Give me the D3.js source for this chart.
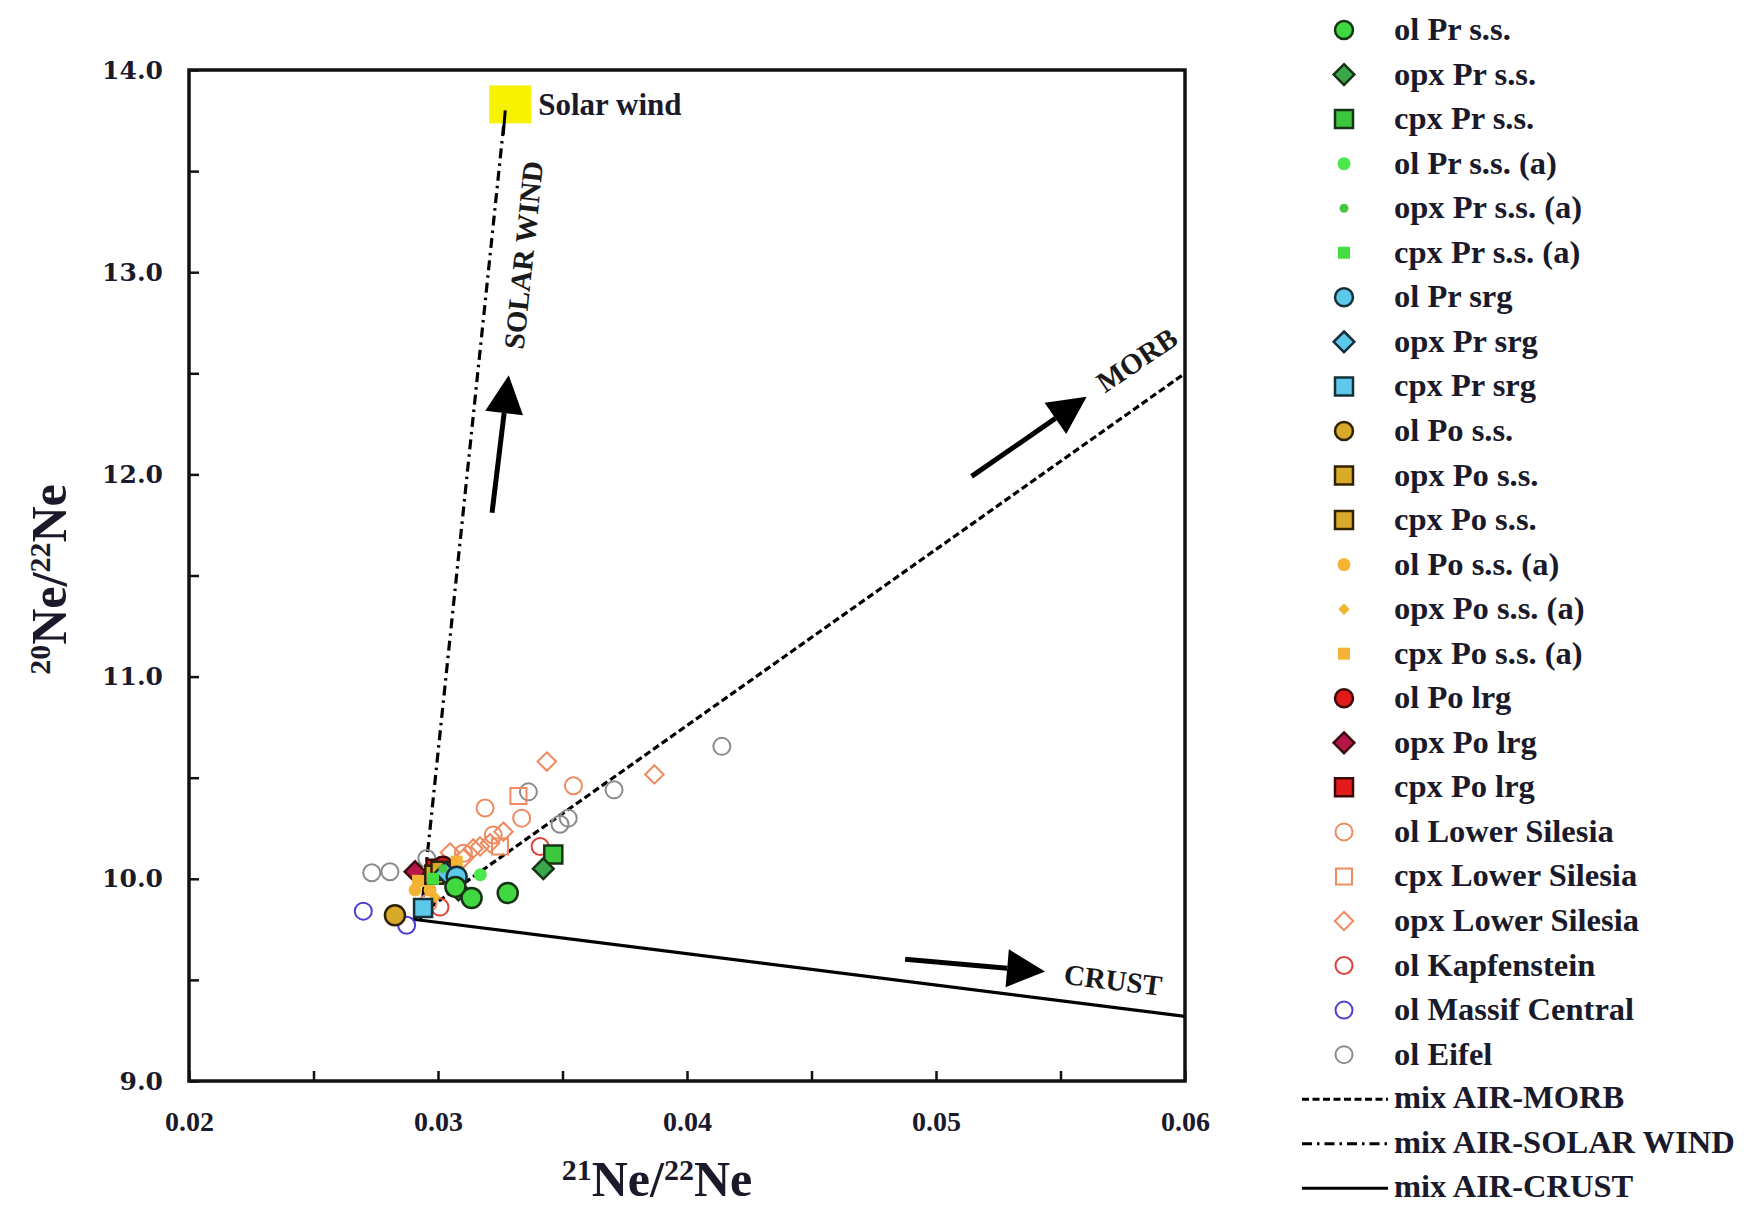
<!DOCTYPE html>
<html>
<head>
<meta charset="utf-8">
<title>Ne isotopes</title>
<script src="https://cdn.jsdelivr.net/npm/d3@7"></script>
<style>
  body { margin: 0; background: #fff; }
  text { font-family: "Liberation Serif", "Times New Roman", serif; }
</style>
</head>
<body>
<script>
// ---- data ----
var olPrSS      = [[0.0307, 9.96], [0.03135, 9.905], [0.0328, 9.93]];
var opxPrSS     = [[0.03082, 9.945], [0.03423, 10.05]];
var cpxPrSS     = [[0.03463, 10.12]];
var olPrSSa     = [[0.0317, 10.02]];
var opxPrSSa    = [[0.0302, 10.05]];
var cpxPrSSa    = [[0.0298, 10.0]];
var olPrSrg     = [[0.03075, 10.01]];
var opxPrSrg    = [[0.0303, 10.03]];
var cpxPrSrg    = [[0.0294, 9.855]];
var olPoSS      = [[0.02827, 9.82]];
var opxPoSS     = [[0.0301, 10.04]];
var cpxPoSS     = [[0.02985, 10.02]];
var olPoSSa     = [[0.02908, 9.945], [0.02968, 9.945]];
var opxPoSSa    = [[0.02988, 9.91], [0.0296, 9.97]];
var cpxPoSSa    = [[0.03075, 10.085], [0.0292, 9.99]];
var olPoLrg     = [[0.0302, 10.06]];
var opxPoLrg    = [[0.02908, 10.035]];
var cpxPoLrg    = [[0.0299, 10.05]];
var olLowSil    = [[0.03189, 10.35], [0.03544, 10.46], [0.03336, 10.30], [0.03222, 10.217], [0.0296, 9.88], [0.03102, 10.126]];
var cpxLowSil   = [[0.03323, 10.41], [0.03249, 10.16]];
var opxLowSil   = [[0.03437, 10.58], [0.03869, 10.516], [0.03263, 10.233], [0.03209, 10.176], [0.03048, 10.13], [0.03142, 10.15], [0.03102, 10.10], [0.03169, 10.16]];
var olKapf      = [[0.03008, 9.86], [0.0341, 10.16]];
var olMassif    = [[0.0270, 9.84], [0.02874, 9.77]];
var olEifel     = [[0.02734, 10.03], [0.02807, 10.035], [0.02955, 10.10], [0.03363, 10.43], [0.0349, 10.27], [0.03523, 10.30], [0.03707, 10.44], [0.0414, 10.655]];

var seriesNames = ["ol Pr s.s.", "opx Pr s.s.", "cpx Pr s.s.", "ol Pr s.s. (a)", "opx Pr s.s. (a)", "cpx Pr s.s. (a)",
  "ol Pr srg", "opx Pr srg", "cpx Pr srg", "ol Po s.s.", "opx Po s.s.", "cpx Po s.s.",
  "ol Po s.s. (a)", "opx Po s.s. (a)", "cpx Po s.s. (a)", "ol Po lrg", "opx Po lrg", "cpx Po lrg",
  "ol Lower Silesia", "cpx Lower Silesia", "opx Lower Silesia", "ol Kapfenstein", "ol Massif Central", "ol Eifel"];
var seriesPoints = [olPrSS, opxPrSS, cpxPrSS, olPrSSa, opxPrSSa, cpxPrSSa, olPrSrg, opxPrSrg, cpxPrSrg,
  olPoSS, opxPoSS, cpxPoSS, olPoSSa, opxPoSSa, cpxPoSSa, olPoLrg, opxPoLrg, cpxPoLrg,
  olLowSil, cpxLowSil, opxLowSil, olKapf, olMassif, olEifel];

// mixing lines: air end-member and the other end-members
var airPoint = [0.029, 9.8];
var morbEnd = [0.06, 12.5];
var solarStart = [0.0293, 9.8];
var solarEnd = [0.0327, 13.8];
var crustEnd = [0.06, 9.32];
var solarWind = [0.0329, 13.83];
var lineNames = ["mix AIR-MORB", "mix AIR-SOLAR WIND", "mix AIR-CRUST"];

var xTickValues = [0.02, 0.025, 0.03, 0.035, 0.04, 0.045, 0.05, 0.055, 0.06];
var xTickLabels = ["0.02", "", "0.03", "", "0.04", "", "0.05", "", "0.06"];
var yTickValues = [9, 9.5, 10, 10.5, 11, 11.5, 12, 12.5, 13, 13.5, 14];
var yTickLabels = ["9.0", "", "10.0", "", "11.0", "", "12.0", "", "13.0", "", "14.0"];

// arrows of the annotations, in data units: [from, to]
var arrowSolar = [[0.03217, 11.81], [0.03284, 12.49]];
var arrowMorb = [[0.05143, 11.99], [0.05605, 12.384]];
var arrowCrust = [[0.04876, 9.602], [0.05438, 9.541]];

// ---- styles ----
var styles = {
  "ol Pr s.s.":        {shape: "circle",  r: 10,  fill: "#3fd93f", stroke: "#173317", sw: 2.5},
  "opx Pr s.s.":       {shape: "diamond", r: 9,   fill: "#3aa84a", stroke: "#173317", sw: 2.5},
  "cpx Pr s.s.":       {shape: "square",  r: 9,   fill: "#3cc83c", stroke: "#173317", sw: 2.5},
  "ol Pr s.s. (a)":    {shape: "circle",  r: 6.5, fill: "#4be84b", stroke: "none", sw: 0},
  "opx Pr s.s. (a)":   {shape: "circle",  r: 4.5, fill: "#44c844", stroke: "none", sw: 0},
  "cpx Pr s.s. (a)":   {shape: "square",  r: 6,   fill: "#44dd44", stroke: "none", sw: 0},
  "ol Pr srg":         {shape: "circle",  r: 10,  fill: "#5cc8ea", stroke: "#16303a", sw: 2.5},
  "opx Pr srg":        {shape: "diamond", r: 9,   fill: "#5cc8ea", stroke: "#16303a", sw: 2.5},
  "cpx Pr srg":        {shape: "square",  r: 9,   fill: "#5cc8ea", stroke: "#16303a", sw: 2.5},
  "ol Po s.s.":        {shape: "circle",  r: 10,  fill: "#d9aa2a", stroke: "#2e2200", sw: 2.5},
  "opx Po s.s.":       {shape: "square",  r: 9,   fill: "#d9aa2a", stroke: "#2e2200", sw: 2.5},
  "cpx Po s.s.":       {shape: "square",  r: 9,   fill: "#d9aa2a", stroke: "#2e2200", sw: 2.5},
  "ol Po s.s. (a)":    {shape: "circle",  r: 6.5, fill: "#f5b335", stroke: "none", sw: 0},
  "opx Po s.s. (a)":   {shape: "diamond", r: 5,   fill: "#f0b830", stroke: "none", sw: 0},
  "cpx Po s.s. (a)":   {shape: "square",  r: 6,   fill: "#f5b335", stroke: "none", sw: 0},
  "ol Po lrg":         {shape: "circle",  r: 10,  fill: "#e31a1a", stroke: "#3a0a0a", sw: 2.5},
  "opx Po lrg":        {shape: "diamond", r: 9,   fill: "#b5174a", stroke: "#3a0a0a", sw: 2.5},
  "cpx Po lrg":        {shape: "square",  r: 9,   fill: "#e21b1b", stroke: "#3a0a0a", sw: 2.5},
  "ol Lower Silesia":  {shape: "circle",  r: 8.5, fill: "none", stroke: "#ef8a5e", sw: 2},
  "cpx Lower Silesia": {shape: "square",  r: 8,   fill: "none", stroke: "#ef8a5e", sw: 2},
  "opx Lower Silesia": {shape: "diamond", r: 8,   fill: "none", stroke: "#ef8a5e", sw: 2},
  "ol Kapfenstein":    {shape: "circle",  r: 8.5, fill: "none", stroke: "#e0403a", sw: 2},
  "ol Massif Central": {shape: "circle",  r: 8.5, fill: "none", stroke: "#4a3fd0", sw: 2},
  "ol Eifel":          {shape: "circle",  r: 8.5, fill: "none", stroke: "#8a8a8a", sw: 2}
};

var W = 1760, H = 1207;
var margin = {left: 189, top: 70, right: 575, bottom: 126};
var pw = W - margin.left - margin.right, ph = H - margin.top - margin.bottom;

var svg = d3.select("body").append("svg").attr("width", W).attr("height", H);
var g = svg.append("g").attr("transform", "translate(" + margin.left + "," + margin.top + ")");

var x = d3.scaleLinear().domain([0.02, 0.06]).range([0, pw]);
var y = d3.scaleLinear().domain([9, 14]).range([ph, 0]);

function shapePath(shape, r) {
  if (shape === "circle") return d3.symbol(d3.symbolCircle, Math.PI * r * r)();
  if (shape === "square") return d3.symbol(d3.symbolSquare, 4 * r * r)();
  var d = r * 1.15;
  return "M0," + (-d) + "L" + d + ",0L0," + d + "L" + (-d) + ",0Z";
}

// ---- axes ----
var xAxis = d3.axisBottom(x).tickValues(xTickValues).tickSize(-10)
  .tickFormat(function (d, i) { return xTickLabels[i]; });
var yAxis = d3.axisLeft(y).tickValues(yTickValues).tickSize(-10)
  .tickFormat(function (d, i) { return yTickLabels[i]; });

var gx = g.append("g").attr("transform", "translate(0," + ph + ")").call(xAxis);
gx.select(".domain").remove();
gx.selectAll(".tick line").attr("stroke", "#111").attr("stroke-width", 2.5);
gx.selectAll(".tick text").attr("y", 30).attr("dy", "0.71em")
  .style("font-family", "'Liberation Serif', serif").style("font-weight", "bold")
  .style("font-size", "28px").attr("fill", "#1a1a2a");

var gy = g.append("g").call(yAxis);
gy.select(".domain").remove();
gy.selectAll(".tick line").attr("stroke", "#111").attr("stroke-width", 2.5);
gy.selectAll(".tick text").attr("x", -26)
  .style("font-family", "'DejaVu Serif', serif").style("font-weight", "bold")
  .style("font-size", "25px").attr("fill", "#1a1a2a");

// ---- mixing lines ----
var line = d3.line().x(function (d) { return x(d[0]); }).y(function (d) { return y(d[1]); });
g.append("path").attr("d", line([airPoint, crustEnd])).attr("fill", "none")
  .attr("stroke", "#000").attr("stroke-width", 3.2);
g.append("path").attr("d", line([airPoint, morbEnd])).attr("fill", "none")
  .attr("stroke", "#000").attr("stroke-width", 3.2).attr("stroke-dasharray", "7,3.5");
g.append("path").attr("d", line([solarStart, solarEnd])).attr("fill", "none")
  .attr("stroke", "#000").attr("stroke-width", 3.2).attr("stroke-dasharray", "10,5,2.5,5");

// solar wind end-member
g.append("rect")
  .attr("x", x(solarWind[0]) - 21).attr("y", y(solarWind[1]) - 19)
  .attr("width", 42).attr("height", 38).attr("fill", "#f6f200");
g.append("path").attr("d", line([[solarEnd[0] - 0.00008, solarEnd[1] - 0.12], solarEnd]))
  .attr("stroke", "#000").attr("stroke-width", 3);
g.append("text").attr("x", x(solarWind[0]) + 28).attr("y", y(solarWind[1]) + 11)
  .attr("font-weight", "bold").attr("font-size", 31).attr("fill", "#1a1a2a").text("Solar wind");

// ---- arrows ----
function arrow(a) {
  var x1 = x(a[0][0]), y1 = y(a[0][1]), x2 = x(a[1][0]), y2 = y(a[1][1]);
  var ang = Math.atan2(y2 - y1, x2 - x1);
  var L = 38, hw = 19;
  var bx = x2 - L * Math.cos(ang), by = y2 - L * Math.sin(ang);
  g.append("line").attr("x1", x1).attr("y1", y1).attr("x2", bx).attr("y2", by)
    .attr("stroke", "#000").attr("stroke-width", 5);
  var px = -Math.sin(ang) * hw, py = Math.cos(ang) * hw;
  g.append("path").attr("d", "M" + x2 + "," + y2 + "L" + (bx + px) + "," + (by + py) +
    "L" + (bx - px) + "," + (by - py) + "Z").attr("fill", "#000");
}
arrow(arrowSolar);
arrow(arrowMorb);
arrow(arrowCrust);

// annotation labels
function label(txt, dx, dy, rot, size) {
  g.append("text").attr("transform", "translate(" + x(dx) + "," + y(dy) + ") rotate(" + rot + ")")
    .attr("text-anchor", "middle").attr("dominant-baseline", "central")
    .attr("font-weight", "bold").attr("font-size", size).attr("fill", "#1a1a1a").text(txt);
}
label("SOLAR WIND", 0.03343, 13.085, -84, 29);
label("MORB", 0.05806, 12.566, -34, 29);
label("CRUST", 0.05711, 9.50, 7, 29);

// ---- points (last series drawn first) ----
for (var i = seriesNames.length - 1; i >= 0; i--) {
  var st = styles[seriesNames[i]];
  g.selectAll(null).data(seriesPoints[i]).enter().append("path")
    .attr("transform", function (d) { return "translate(" + x(d[0]) + "," + y(d[1]) + ")"; })
    .attr("d", shapePath(st.shape, st.r))
    .attr("fill", st.fill).attr("stroke", st.stroke).attr("stroke-width", st.sw);
}

// frame
g.append("rect").attr("width", pw).attr("height", ph).attr("fill", "none")
  .attr("stroke", "#111").attr("stroke-width", 3.5);

// ---- axis titles ----
function isoTitle(sel, a, b) {
  sel.append("tspan").attr("font-size", 30).attr("dy", -16).text(a);
  sel.append("tspan").attr("dy", 16).text("Ne/");
  sel.append("tspan").attr("font-size", 30).attr("dy", -16).text(b);
  sel.append("tspan").attr("dy", 16).text("Ne");
}
var xt = svg.append("text").attr("x", margin.left + pw / 2 - 30).attr("y", 1196)
  .attr("text-anchor", "middle").attr("font-weight", "bold").attr("font-size", 50).attr("fill", "#1a1a2a");
isoTitle(xt, "21", "22");
var yt = svg.append("text").attr("transform", "translate(66," + (margin.top + ph / 2 + 4) + ") rotate(-90)")
  .attr("text-anchor", "middle").attr("font-weight", "bold").attr("font-size", 50).attr("fill", "#1a1a2a");
isoTitle(yt, "20", "22");

// ---- legend ----
var leg = svg.append("g");
var rowY = function (i) { return 30 + i * 44.55; };
seriesNames.forEach(function (name, i) {
  var st = styles[name];
  leg.append("path").attr("transform", "translate(1344," + rowY(i) + ")")
    .attr("d", shapePath(st.shape, Math.min(st.r, 9)))
    .attr("fill", st.fill).attr("stroke", st.stroke).attr("stroke-width", st.sw);
  leg.append("text").attr("x", 1394).attr("y", rowY(i) + 10)
    .attr("font-weight", "bold").attr("font-size", 32.5).attr("fill", "#1a1a2a").text(name);
});
var lineDash = ["7,3.5", "10,5,2.5,5", null];
lineNames.forEach(function (name, j) {
  var yy = rowY(seriesNames.length + j);
  var l = leg.append("line").attr("x1", 1302).attr("x2", 1388).attr("y1", yy).attr("y2", yy)
    .attr("stroke", "#000").attr("stroke-width", 3);
  if (lineDash[j]) l.attr("stroke-dasharray", lineDash[j]);
  leg.append("text").attr("x", 1394).attr("y", yy + 9)
    .attr("font-weight", "bold").attr("font-size", 32.5).attr("fill", "#1a1a2a").text(name);
});
</script>
</body>
</html>
